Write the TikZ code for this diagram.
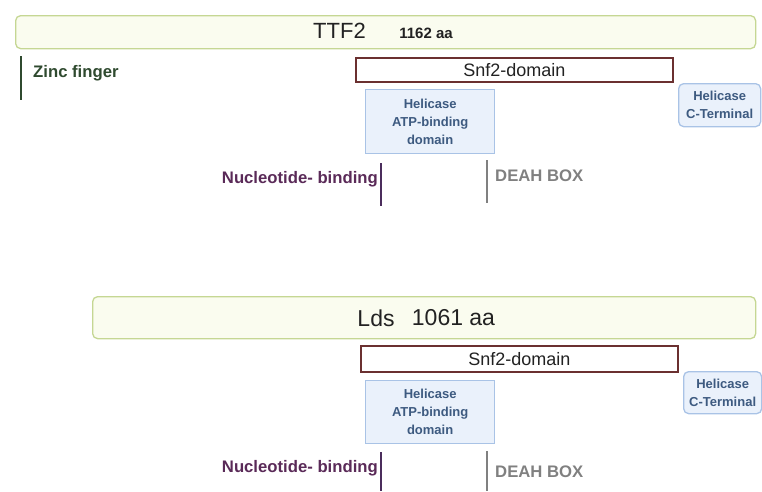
\documentclass[tikz,border=0pt]{standalone}
\usepackage{fontspec}
\setmainfont{Liberation Sans}
\definecolor{barfill}{HTML}{FAFCEF}
\definecolor{barline}{HTML}{C5D793}
\definecolor{titletext}{HTML}{222222}
\definecolor{zinc}{HTML}{2F4A2F}
\definecolor{snfline}{HTML}{6B3030}
\definecolor{helfill}{HTML}{EAF1FB}
\definecolor{helline}{HTML}{A9C3E6}
\definecolor{heltext}{HTML}{3D5A80}
\definecolor{nucl}{HTML}{5A2A58}
\definecolor{nuclline}{HTML}{4B2D5C}
\definecolor{deah}{HTML}{808080}
\begin{document}
\begin{tikzpicture}[x=1pt,y=-1pt,
  titlebar/.style={draw=barline, fill=barfill, rounded corners=5pt, line width=1.3pt, inner sep=0pt, anchor=north west},
  snfbox/.style={draw=snfline, fill=white, line width=1.6pt, inner sep=0pt, anchor=north west},
  helbox/.style={draw=helline, fill=helfill, line width=1.3pt, inner sep=0pt, anchor=north west},
  ctbox/.style={helbox, rounded corners=5pt},
  boxtext/.style={font=\bfseries\fontsize{13}{18}\selectfont, text=heltext, align=center, inner sep=0pt},
  snftext/.style={font=\fontsize{18}{21}\selectfont, text=titletext, inner sep=0pt},
  siteline/.style={line width=2.6pt},
  lbl/.style={font=\bfseries\fontsize{16.7}{19}\selectfont, inner sep=0pt}
]
\useasboundingbox (0,0) rectangle (762,491);

% ---------- TTF2 ----------
\node[titlebar, minimum width=740pt, minimum height=33pt] (bar1) at (15,15) {};
\node[font=\fontsize{22}{26}\selectfont, text=titletext, inner sep=0pt] (t1) at (339.5,31) {TTF2};
\node[font=\bfseries\fontsize{15}{18}\selectfont, text=titletext, inner sep=0pt] (aa1) at (426,33) {1162 aa};

\coordinate (z1a) at (21,56);
\coordinate (z1b) at (21,100);
\draw[siteline, zinc] (z1a) -- (z1b);
\node[lbl, text=zinc, anchor=west] (zinc1) at (33,73) {Zinc finger};

\node[snfbox, minimum width=317pt, minimum height=24pt] (snf1) at (355,57) {};
\node[snftext] (snft1) at (snf1.center) {Snf2-domain};

\node[helbox, minimum width=129pt, minimum height=64pt] (hel1) at (365,89) {};
\node[boxtext] (helt1) at (hel1.center) {Helicase\\ATP-binding\\domain};

\node[ctbox, minimum width=82pt, minimum height=43pt] (ct1) at (678,83) {};
\node[boxtext] (ctt1) at (ct1.center) {Helicase\\C-Terminal};

\coordinate (n1a) at (381,163);
\coordinate (n1b) at (381,206);
\draw[siteline, nuclline] (n1a) -- (n1b);
\node[lbl, text=nucl, anchor=east] (nuc1) at (378,179) {Nucleotide- binding};

\coordinate (d1a) at (487,160);
\coordinate (d1b) at (487,203);
\draw[siteline, deah] (d1a) -- (d1b);
\node[lbl, text=deah, anchor=west] (deah1) at (495,176) {DEAH BOX};

% ---------- Lds ----------
\node[titlebar, minimum width=663pt, minimum height=42pt] (bar2) at (92,296) {};
\node[font=\fontsize{23}{27}\selectfont, text=titletext, inner sep=0pt] (t2) at (376,318) {Lds};
\node[font=\fontsize{23}{27}\selectfont, text=titletext, inner sep=0pt] (aa2) at (453.5,318) {1061 aa};

\node[snfbox, minimum width=317pt, minimum height=26pt] (snf2) at (360,345) {};
\node[snftext] (snft2) at (snf2.center) {Snf2-domain};

\node[helbox, minimum width=129pt, minimum height=63pt] (hel2) at (365,380) {};
\node[boxtext] (helt2) at (hel2.center) {Helicase\\ATP-binding\\domain};

\node[ctbox, minimum width=78pt, minimum height=42pt] (ct2) at (683,371) {};
\node[boxtext] (ctt2) at (ct2.center) {Helicase\\C-Terminal};

\coordinate (n2a) at (381,452);
\coordinate (n2b) at (381,491);
\draw[siteline, nuclline] (n2a) -- (n2b);
\node[lbl, text=nucl, anchor=east] (nuc2) at (378,468) {Nucleotide- binding};

\coordinate (d2a) at (487,451);
\coordinate (d2b) at (487,491);
\draw[siteline, deah] (d2a) -- (d2b);
\node[lbl, text=deah, anchor=west] (deah2) at (495,472) {DEAH BOX};
\end{tikzpicture}
\end{document}
